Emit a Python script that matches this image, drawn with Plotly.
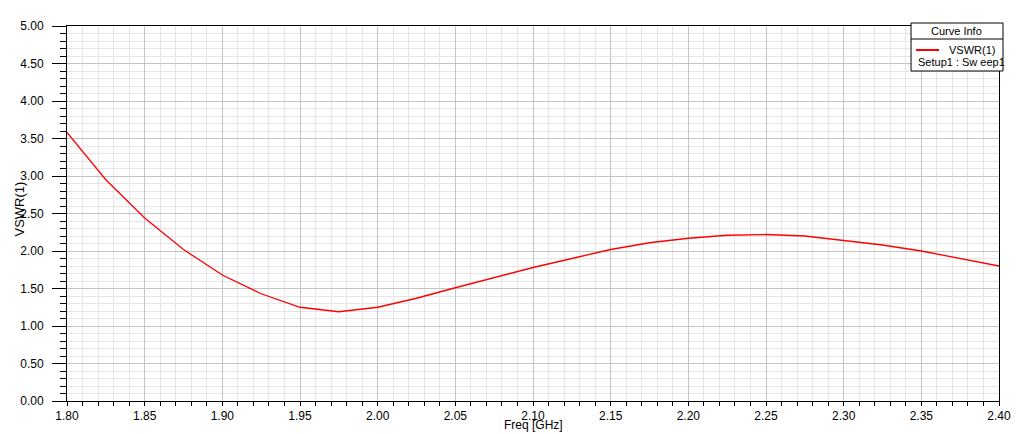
import plotly.graph_objects as go

# VSWR sweep
freq_ghz = [1.800, 1.825, 1.850, 1.875, 1.900, 1.925, 1.950, 1.975, 2.000,
            2.025, 2.050, 2.075, 2.100, 2.125, 2.150, 2.175, 2.200, 2.225,
            2.250, 2.275, 2.300, 2.325, 2.350, 2.375, 2.400]
vswr = [3.58, 2.95, 2.44, 2.02, 1.68, 1.43, 1.25, 1.19, 1.25,
        1.37, 1.51, 1.65, 1.78, 1.90, 2.02, 2.11, 2.17, 2.21,
        2.22, 2.20, 2.14, 2.08, 2.00, 1.90, 1.80]

trace_name = "VSWR(1)"
setup_name = "Setup1 : Sw eep1"
legend_title = "Curve Info"
x_title = "Freq [GHz]"
y_title = "VSWR(1)"

FONT = "Liberation Sans, Arial, sans-serif"
MAJOR_GRID = "#c4c4c4"
MINOR_GRID = "#e6e6e6"

fig = go.Figure()

fig.add_trace(
    go.Scatter(
        x=freq_ghz,
        y=vswr,
        mode="lines",
        name=trace_name,
        line=dict(color="#ff0000", width=1.3),
        showlegend=False,
    )
)

# the page body has an 8px margin, so the figure is sized to fit the window
fig.update_layout(
    width=1011,
    height=426,
    margin=dict(l=59, r=20, t=18, b=33),
    plot_bgcolor="white",
    paper_bgcolor="white",
    font=dict(family=FONT, size=12, color="#000"),
    xaxis=dict(
        range=[1.8, 2.4],
        dtick=0.05,
        tick0=1.8,
        tickformat=".2f",
        automargin=False,
        showgrid=True,
        gridcolor=MAJOR_GRID,
        gridwidth=1,
        zeroline=False,
        showline=True,
        linecolor="black",
        linewidth=1,
        mirror=True,
        ticks="outside",
        ticklen=4,
        tickcolor="black",
        minor=dict(dtick=0.01, ticks="outside", ticklen=4, tickcolor="black",
                   showgrid=True, gridcolor=MINOR_GRID),
    ),
    yaxis=dict(
        range=[0, 5],
        dtick=0.5,
        tickformat=".2f",
        automargin=False,
        showgrid=True,
        gridcolor=MAJOR_GRID,
        gridwidth=1,
        zeroline=False,
        showline=True,
        linecolor="black",
        linewidth=1,
        mirror=True,
        ticks="outside",
        ticklen=14,
        tickcolor="black",
        ticklabelstandoff=6,
        minor=dict(dtick=0.1, ticks="outside", ticklen=6, tickcolor="black",
                   showgrid=True, gridcolor=MINOR_GRID),
    ),
)

# axis titles placed where HFSS puts them (the y title sits over the tick labels)
fig.add_annotation(xref="paper", yref="paper", x=0.5, y=0, yshift=-24,
                   text=x_title, showarrow=False, font=dict(size=12),
                   xanchor="center", yanchor="middle")
fig.add_annotation(xref="paper", yref="paper", x=0, y=0.5107, xshift=-48,
                   text=y_title, textangle=-90, showarrow=False, font=dict(size=13),
                   xanchor="center", yanchor="middle")

# legend box drawn by hand, like the HFSS "Curve Info" panel
fig.add_shape(type="rect", xref="paper", yref="paper",
              x0=0.9056, x1=1.0043, y0=0.88, y1=1.008,
              line=dict(color="black", width=1), fillcolor="white", layer="above")
fig.add_shape(type="line", xref="paper", yref="paper",
              x0=0.9056, x1=1.0043, y0=0.9653, y1=0.9653,
              line=dict(color="black", width=1), layer="above")
fig.add_shape(type="line", xref="paper", yref="paper",
              x0=0.911, x1=0.9356, y0=0.936, y1=0.936,
              line=dict(color="#ff0000", width=2), layer="above")
fig.add_annotation(xref="paper", yref="paper", x=0.9549, y=0.986,
                   text=legend_title, showarrow=False,
                   font=dict(size=11, family=FONT), xanchor="center", yanchor="middle")
fig.add_annotation(xref="paper", yref="paper", x=0.998, y=0.936,
                   text=trace_name, showarrow=False,
                   font=dict(size=11, family=FONT), xanchor="right", yanchor="middle")
fig.add_annotation(xref="paper", yref="paper", x=0.9107, y=0.904,
                   text=setup_name, showarrow=False,
                   font=dict(size=11, family=FONT), xanchor="left", yanchor="middle")

fig.write_html("out.html")
